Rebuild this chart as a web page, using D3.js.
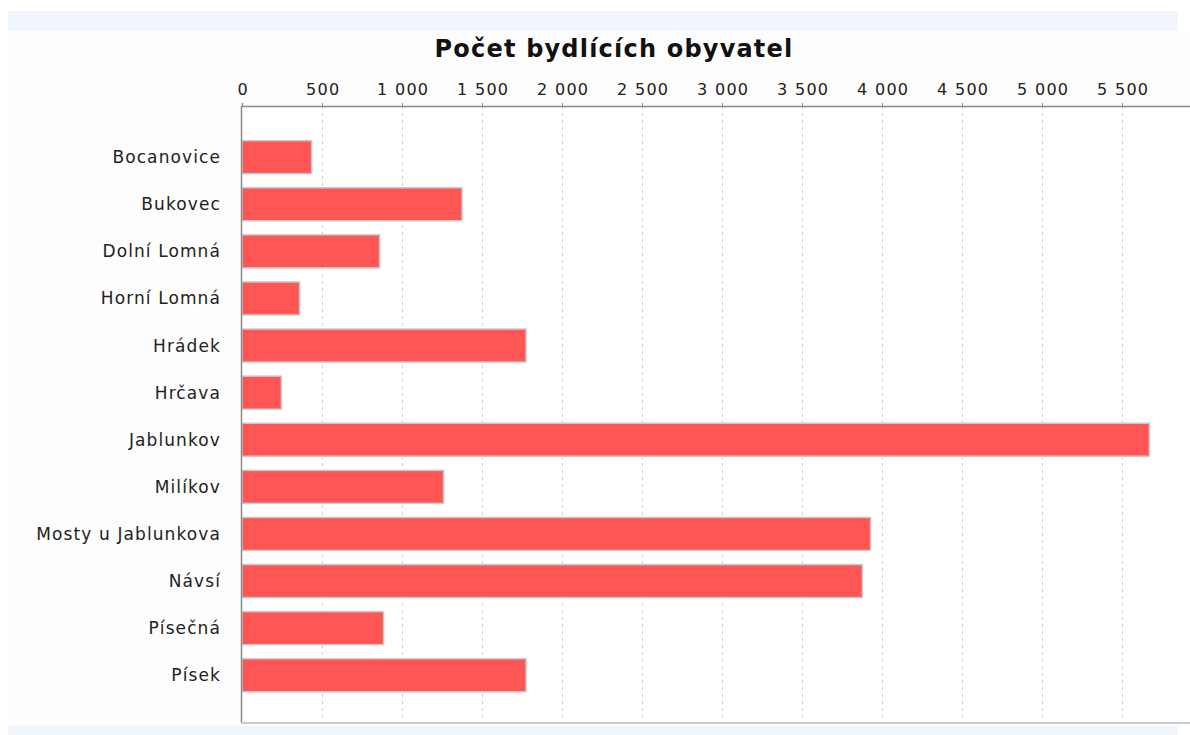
<!DOCTYPE html>
<html>
<head>
<meta charset="utf-8">
<script src="https://cdn.jsdelivr.net/npm/d3@7"></script>
<style>
  html, body { margin: 0; padding: 0; background: #fff; }
  svg { display: block; }
</style>
</head>
<body>
<svg id="chart" width="1190" height="735"></svg>
<script>
// data
const obce = ["Bocanovice", "Bukovec", "Dolní Lomná", "Horní Lomná", "Hrádek", "Hrčava",
  "Jablunkov", "Milíkov", "Mosty u Jablunkova", "Návsí", "Písečná", "Písek"];
const obyvatel = [435, 1375, 860, 360, 1775, 246, 5671, 1260, 3929, 3877, 885, 1775];
const tickValues = [0, 500, 1000, 1500, 2000, 2500, 3000, 3500, 4000, 4500, 5000, 5500];
const title = "Počet bydlících obyvatel";

const svg = d3.select("#chart");
const fontLabel = "'DejaVu Sans', sans-serif";

const plotLeft = 242, axisY = 106, plotBottom = 723;

// light blue strips at top and bottom
svg.append("rect").attr("x", 8).attr("y", 11).attr("width", 1170).attr("height", 20).attr("fill", "#f1f6fd");
svg.append("rect").attr("x", 8).attr("y", 726).attr("width", 1170).attr("height", 12).attr("fill", "#f1f6fd");
svg.append("rect").attr("x", 8).attr("y", 31).attr("width", 1182).attr("height", 695).attr("fill", "#fdfdfd");
svg.append("rect").attr("x", plotLeft).attr("y", axisY).attr("width", 1190 - plotLeft).attr("height", plotBottom - axisY).attr("fill", "#ffffff");

const x = d3.scaleLinear()
  .domain([0, 5955])
  .range([plotLeft, plotLeft + 5955 * 0.16]);

const y = d3.scaleBand()
  .domain(obce)
  .range([133.6, 698.8])
  .paddingInner(0.3)
  .paddingOuter(0.15);

// grid lines
svg.append("g").selectAll("line")
  .data(tickValues.filter(d => d > 0))
  .enter().append("line")
  .attr("x1", d => x(d) + 0.5).attr("x2", d => x(d) + 0.5)
  .attr("y1", axisY).attr("y2", plotBottom)
  .attr("stroke", "#cfcfcf")
  .attr("stroke-dasharray", "3,4");

// bars
svg.append("g").selectAll("rect")
  .data(obce)
  .enter().append("rect")
  .attr("x", x(0))
  .attr("y", d => y(d))
  .attr("width", (d, i) => x(obyvatel[i]) - x(0))
  .attr("height", y.bandwidth())
  .attr("fill", "#ff5555")
  .attr("stroke", "#c8c8c8")
  .attr("stroke-width", 1.5);

// top axis
const xAxis = d3.axisTop(x)
  .tickValues(tickValues)
  .tickSize(3)
  .tickPadding(8)
  .tickFormat(d => d3.format(",")(d).replace(/,/g, " "));

const gx = svg.append("g")
  .attr("transform", "translate(0," + axisY + ")")
  .call(xAxis);
gx.select(".domain").attr("stroke", "#8a8a8a").attr("stroke-width", 1.5);
gx.selectAll(".tick line").attr("stroke", "#8a8a8a");
gx.selectAll(".tick text")
  .attr("fill", "#222")
  .attr("dx", "0.7px")
  .style("font-family", fontLabel)
  .style("font-size", "16px")
  .style("letter-spacing", "1.3px");

// left axis line and bottom line
svg.append("line")
  .attr("x1", plotLeft - 0.5).attr("x2", plotLeft - 0.5)
  .attr("y1", axisY).attr("y2", plotBottom)
  .attr("stroke", "#8a8a8a").attr("stroke-width", 1.5);
svg.append("line")
  .attr("x1", plotLeft - 1).attr("x2", 1190)
  .attr("y1", plotBottom).attr("y2", plotBottom)
  .attr("stroke", "#cccccc").attr("stroke-width", 2);

// category labels
svg.append("g").selectAll("text")
  .data(obce)
  .enter().append("text")
  .attr("x", 221)
  .attr("y", d => y(d) + y.bandwidth() / 2)
  .attr("dy", "0.35em")
  .attr("text-anchor", "end")
  .attr("fill", "#222")
  .style("font-family", fontLabel)
  .style("font-size", "17px")
  .style("letter-spacing", "1.1px")
  .text(d => d);

// title
svg.append("text")
  .attr("x", 614)
  .attr("y", 57)
  .attr("text-anchor", "middle")
  .attr("fill", "#111")
  .style("font-family", "'DejaVu Sans', sans-serif")
  .style("font-weight", "bold")
  .style("font-size", "24px")
  .style("letter-spacing", "1.2px")
  .text(title);
</script>
</body>
</html>
